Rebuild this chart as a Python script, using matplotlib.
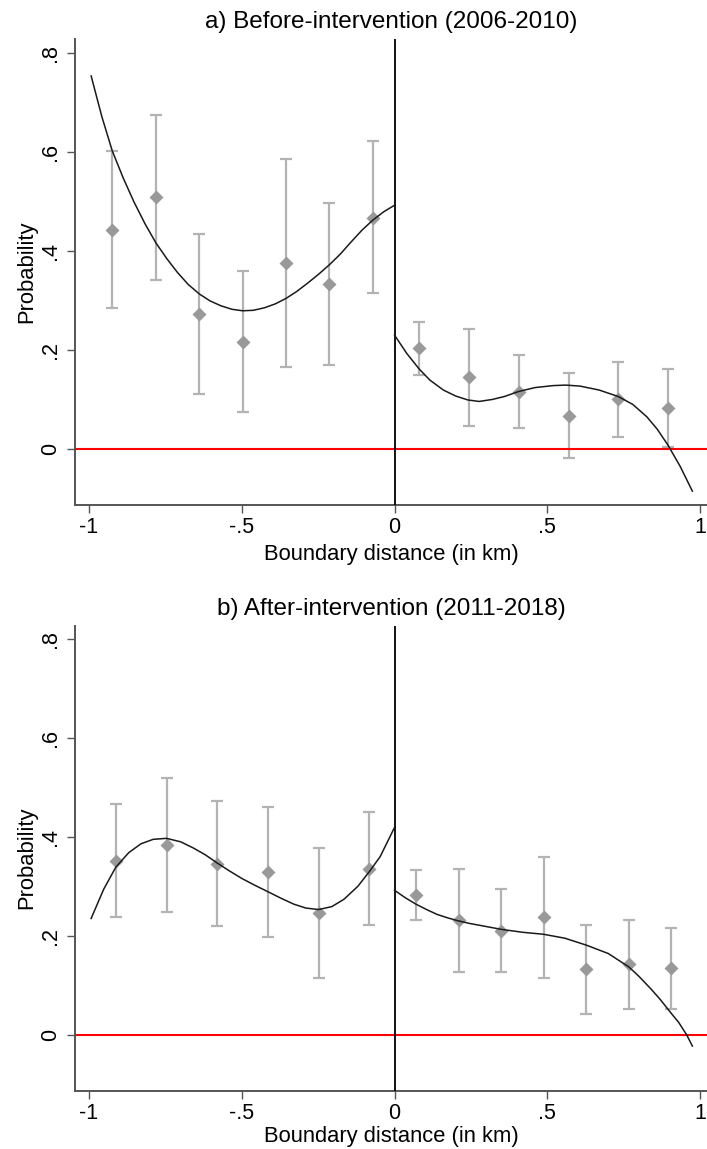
import numpy as np
import matplotlib
matplotlib.use("Agg")
import matplotlib.pyplot as plt

plt.rcParams['font.family'] = ['Liberation Sans', 'DejaVu Sans']

# panel a) before intervention - binned means with 95% CI
a_x = [-0.926, -0.782, -0.639, -0.497, -0.355, -0.213, -0.071,
       0.080, 0.243, 0.406, 0.570, 0.732, 0.895]
a_y = [0.442, 0.508, 0.272, 0.216, 0.375, 0.333, 0.467,
       0.203, 0.145, 0.116, 0.067, 0.100, 0.082]
a_lo = [0.284, 0.341, 0.111, 0.074, 0.166, 0.170, 0.314,
        0.150, 0.047, 0.042, -0.019, 0.025, 0.004]
a_hi = [0.602, 0.674, 0.434, 0.360, 0.585, 0.497, 0.621,
        0.257, 0.243, 0.190, 0.153, 0.175, 0.162]

# fitted polynomial, left and right of the boundary
a_fit_left_x = [-0.993, -0.958, -0.924, -0.888, -0.853, -0.817, -0.781, -0.745,
                -0.710, -0.675, -0.639, -0.604, -0.568, -0.532, -0.497, -0.462,
                -0.426, -0.390, -0.355, -0.320, -0.284, -0.248, -0.213, -0.178,
                -0.142, -0.106, -0.071, -0.035, 0.0]
a_fit_left_y = [0.753, 0.671, 0.602, 0.547, 0.499, 0.455, 0.416, 0.384,
                0.356, 0.332, 0.313, 0.299, 0.289, 0.282, 0.279, 0.280,
                0.285, 0.293, 0.304, 0.318, 0.335, 0.353, 0.372, 0.393,
                0.418, 0.442, 0.462, 0.479, 0.492]
a_fit_right_x = [0.0, 0.04, 0.08, 0.116, 0.16, 0.2, 0.24, 0.277, 0.32, 0.36,
                 0.406, 0.46, 0.52, 0.56, 0.607, 0.67, 0.732, 0.78, 0.826,
                 0.86, 0.895, 0.935, 0.975]
a_fit_right_y = [0.230, 0.193, 0.162, 0.139, 0.119, 0.107, 0.099, 0.096, 0.100, 0.106,
                 0.116, 0.124, 0.128, 0.129, 0.127, 0.119, 0.106, 0.090, 0.065,
                 0.040, 0.008, -0.035, -0.085]

# panel b) after intervention
b_x = [-0.912, -0.746, -0.580, -0.414, -0.248, -0.082,
       0.070, 0.210, 0.349, 0.488, 0.628, 0.767, 0.906]
b_y = [0.352, 0.383, 0.345, 0.328, 0.246, 0.335,
       0.283, 0.231, 0.210, 0.237, 0.132, 0.142, 0.134]
b_lo = [0.237, 0.249, 0.219, 0.198, 0.115, 0.221,
        0.231, 0.126, 0.126, 0.114, 0.041, 0.052, 0.051]
b_hi = [0.467, 0.519, 0.473, 0.460, 0.377, 0.450,
        0.334, 0.336, 0.294, 0.360, 0.222, 0.231, 0.216]

b_fit_left_x = [-0.993, -0.952, -0.912, -0.87, -0.83, -0.79, -0.746, -0.70,
                -0.66, -0.62, -0.580, -0.54, -0.5, -0.457, -0.414, -0.372,
                -0.33, -0.29, -0.248, -0.205, -0.165, -0.12, -0.082, -0.047, 0.0]
b_fit_left_y = [0.235, 0.294, 0.339, 0.368, 0.386, 0.395, 0.397, 0.390,
                0.378, 0.364, 0.347, 0.331, 0.316, 0.302, 0.289, 0.276,
                0.264, 0.256, 0.253, 0.259, 0.274, 0.300, 0.330, 0.360, 0.419]
b_fit_right_x = [0.0, 0.035, 0.070, 0.105, 0.140, 0.175, 0.210, 0.245, 0.280, 0.349,
                 0.420, 0.488, 0.558, 0.628, 0.70, 0.767, 0.80, 0.84, 0.87,
                 0.906, 0.93, 0.956, 0.975]
b_fit_right_y = [0.292, 0.277, 0.264, 0.253, 0.243, 0.236, 0.230, 0.225, 0.221, 0.213,
                 0.207, 0.203, 0.195, 0.181, 0.164, 0.137, 0.118, 0.092, 0.071,
                 0.043, 0.025, 0.0, -0.023]

titles = ['a) Before-intervention (2006-2010)', 'b) After-intervention (2011-2018)']
xticks = [-1, -0.5, 0, 0.5, 1]
xticklabels = ['-1', '-.5', '0', '.5', '1']
yticks = [0, 0.2, 0.4, 0.6, 0.8]
yticklabels = ['0', '.2', '.4', '.6', '.8']

fig = plt.figure(figsize=(7.07, 11.49), dpi=100)
ax_a = fig.add_axes([0.1061, 0.5605, 0.8939, 0.4053])
ax_b = fig.add_axes([0.1061, 0.0509, 0.8939, 0.4045])

panels = [
    (ax_a, a_x, a_y, a_lo, a_hi, a_fit_left_x, a_fit_left_y, a_fit_right_x, a_fit_right_y),
    (ax_b, b_x, b_y, b_lo, b_hi, b_fit_left_x, b_fit_left_y, b_fit_right_x, b_fit_right_y),
]

for i, (ax, x, y, lo, hi, flx, fly, frx, fry) in enumerate(panels):
    y = np.array(y)
    err = [y - np.array(lo), np.array(hi) - y]
    ax.errorbar(x, y, yerr=err, fmt='none', ecolor='#b3b3b3', elinewidth=1.6,
                capsize=4.3, capthick=1.6, zorder=2)
    ax.plot(x, y, 'D', color='#999999', ms=6.8, mec='none', zorder=3)
    ax.axhline(0, color='red', lw=1.5, zorder=4)
    ax.axvline(0, color='black', lw=1.3, zorder=4)
    ax.plot(flx, fly, color='#1a1a1a', lw=1.1, zorder=5)
    ax.plot(frx, fry, color='#1a1a1a', lw=1.1, zorder=5)

    ax.set_xlim(-1.0458, 1.0229)
    ax.set_ylim(-0.113, 0.827)
    ax.set_xticks(xticks)
    ax.set_xticklabels(xticklabels)
    ax.set_yticks(yticks)
    ax.set_yticklabels(yticklabels, rotation=90, va='center')
    ax.spines['top'].set_visible(False)
    ax.spines['right'].set_visible(False)
    for s in ['left', 'bottom']:
        ax.spines[s].set_color('#555555')
        ax.spines[s].set_linewidth(1.4)
    ax.tick_params(axis='both', direction='out', length=5.8, width=1.0,
                   color='#555555', labelsize=15.5)
    ax.tick_params(axis='x', pad=3)
    ax.tick_params(axis='y', pad=4.5)
    ax.set_xlabel('Boundary distance (in km)', fontsize=15.8,
                  labelpad=4.5 if i == 0 else 1.5)
    ax.set_ylabel('Probability', fontsize=15.8, labelpad=2)
    ax.set_title(titles[i], fontsize=17.5, pad=8)

fig.savefig('out.png', dpi=100)
